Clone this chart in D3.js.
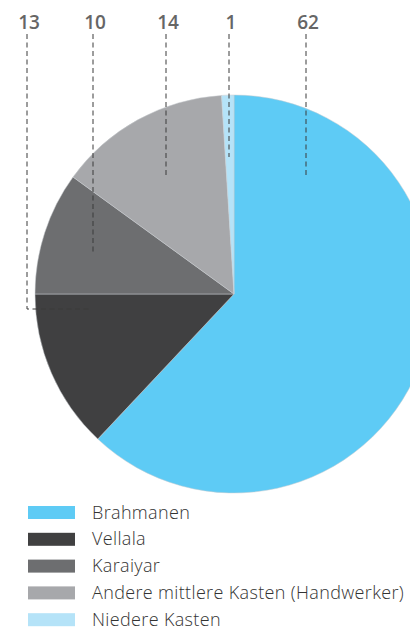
<!DOCTYPE html>
<html>
<head>
<meta charset="utf-8">
<script src="https://cdn.jsdelivr.net/npm/d3@7"></script>
<style>
  body { margin: 0; background: #fff; }
  svg { display: block; }
</style>
</head>
<body>
<div id="chart"></div>
<script>
const categories = ["Brahmanen", "Vellala", "Karaiyar", "Andere mittlere Kasten (Handwerker)", "Niedere Kasten"];
const values = [62, 13, 10, 14, 1];
const colors = ["#5ecbf5", "#404041", "#6d6e70", "#a7a8ab", "#b5e3f8"];

// label order across the top (left to right), with where each leader ends
const labelOrder = [1, 2, 3, 4, 0];
const labelX = [27, 93, 166, 229, 306];
const leaderEnd = [[92, 309], [93, 252], [166, 178], [229, 157], [306, 178]];

const width = 410;
const height = 627;
const cx = 234, cy = 294, radius = 199;

const svg = d3.select("#chart")
    .append("svg")
    .attr("width", width)
    .attr("height", height);

const pie = d3.pie().sort(null).value((d) => d);
const arc = d3.arc().innerRadius(0).outerRadius(radius);

svg.append("g")
    .attr("transform", `translate(${cx},${cy})`)
    .selectAll("path")
    .data(pie(values))
    .enter()
    .append("path")
    .attr("d", arc)
    .style("fill", (d, i) => colors[i])
    .style("stroke", "#c8ccd0")
    .style("stroke-width", 0.5);

// leader lines
const leaders = svg.append("g");
labelOrder.forEach((idx, j) => {
    const x = labelX[j];
    const [ex, ey] = leaderEnd[j];
    let pts = [[x, 34], [x, ey]];
    if (ex !== x) pts.push([ex, ey]);
    leaders.append("path")
        .attr("d", d3.line()(pts))
        .style("fill", "none")
        .style("stroke", "#3a3a3a")
        .style("stroke-width", 1)
        .style("stroke-dasharray", "5,3.5");
});

svg.append("g")
    .selectAll("text")
    .data(labelOrder)
    .enter()
    .append("text")
    .attr("x", (d, j) => labelX[j] + 2)
    .attr("y", 29)
    .attr("text-anchor", "middle")
    .style("font-family", "'Open Sans', sans-serif")
    .style("font-weight", 600)
    .style("font-size", "19px")
    .style("fill", "#666")
    .text((d) => values[d]);

// legend
const legend = svg.append("g")
    .selectAll("g")
    .data(categories)
    .enter()
    .append("g")
    .attr("transform", (d, i) => `translate(28,${506 + i * 26.8})`);

legend.append("rect")
    .attr("width", 47)
    .attr("height", 13)
    .style("fill", (d, i) => colors[i]);

legend.append("text")
    .attr("x", 64)
    .attr("y", 12.5)
    .style("font-family", "'Open Sans', sans-serif")
    .style("font-weight", 300)
    .style("font-size", "18px")
    .style("letter-spacing", "0.35px")
    .style("fill", "#333")
    .text((d) => d);
</script>
</body>
</html>
